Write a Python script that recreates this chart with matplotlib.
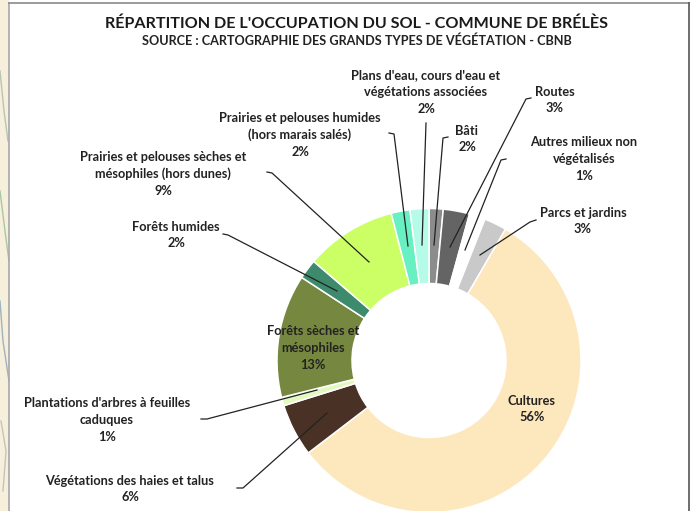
# Occupation du sol donut chart
import matplotlib
matplotlib.use('Agg')
import matplotlib.pyplot as plt
from matplotlib.patches import Rectangle

plt.rcParams['font.family'] = ['Lato', 'DejaVu Sans']

W, H = 694, 511

categories = ["Bâti", "Routes", "Autres milieux non\nvégétalisés", "Parcs et jardins", "Cultures",
              "Végétations des haies et talus", "Plantations d'arbres à feuilles\ncaduques",
              "Forêts sèches et\nmésophiles", "Forêts humides",
              "Prairies et pelouses sèches et\nmésophiles (hors dunes)",
              "Prairies et pelouses humides\n(hors marais salés)",
              "Plans d'eau, cours d'eau et\nvégétations associées"]
# slice sizes as measured on the ring, the printed percentages are rounded differently
values = [1.5, 2.8, 1.7, 2.4, 56.2, 5.6, 0.9, 13.1, 2.1, 9.7, 2.0, 2.0]
percents = ["2%", "3%", "1%", "3%", "56%", "6%", "1%", "13%", "2%", "9%", "2%", "2%"]
colors = ['#8c8c8c', '#646464', '#ffffff', '#c9c9c9', '#fde7bc', '#4a3125',
          '#e4f8c2', '#76883f', '#3e8a6c', '#ccff66', '#68f0c2', '#b4fbe8']

# label centres in picture pixels, same order as categories
label_pos = [(467, 139), (555, 100), (584, 159), (583, 221), (532, 409),
             (130, 489), (107, 420), (313, 348), (176, 235),
             (163, 174), (300, 135), (426, 92)]

# leader lines in picture pixels
leaders = [[(448, 137), (443, 138), (434, 245)],
           [(531, 98), (526, 99), (450, 247)],
           [(506, 159), (501, 160), (465, 250)],
           [(536, 220), (530, 222), (480, 255)],
           None,
           [(237, 488), (243, 488), (327, 413)],
           [(201, 419), (207, 419), (317, 390)],
           None,
           [(223, 234), (228, 235), (337, 291)],
           [(267, 172), (272, 173), (369, 262)],
           [(389, 133), (394, 134), (408, 246)],
           [(426, 123), (422, 245)]]

fig = plt.figure(figsize=(W / 100, H / 100), dpi=100)
ax = fig.add_axes([0, 0, 1, 1])

# map showing behind the panel on the left
ax.add_patch(Rectangle((0, 0), 9, H, color='#f6efdc', lw=0))
for xs, ys, c in [((0, 4, 8), (440, 400, 370), '#b9c4b0'),
                  ((0, 5, 9), (320, 280, 250), '#a9c8a0'),
                  ((0, 3, 9), (210, 170, 130), '#9fb3bd'),
                  ((1, 6, 3), (90, 60, 20), '#c4c4b8')]:
    ax.plot(xs, ys, color=c, lw=1)

wedges, _ = ax.pie(values, colors=colors, startangle=90, counterclock=False,
                   radius=152, center=(429, H - 360.5),
                   wedgeprops=dict(width=75, edgecolor='white', linewidth=1.1))

ax.set_xlim(0, W)
ax.set_ylim(0, H)
ax.set_aspect('auto')
ax.axis('off')

# panel frame
ax.plot([9, 9], [0, H - 3], color='#a8a8a8', lw=1.2)
ax.plot([9, 689], [H - 3, H - 3], color='#8a8a8a', lw=1.2)
ax.plot([689, 689], [0, H - 3], color='#555555', lw=1.2)

for pts in leaders:
    if pts is None:
        continue
    ax.plot([p[0] for p in pts], [H - p[1] for p in pts], color='#222222', lw=0.9)

for name, pct, (x, y) in zip(categories, percents, label_pos):
    ax.text(x, H - y, name + "\n" + pct, ha='center', va='center', fontsize=9.2,
            fontweight='bold', color='#222222', linespacing=1.47)

ax.text(357, H - 24, "RÉPARTITION DE L'OCCUPATION DU SOL - COMMUNE DE BRÉLÈS", ha='center', va='center',
        fontsize=11.6, fontweight='bold', color='#1a1a1a')
ax.text(357, H - 41, "SOURCE : CARTOGRAPHIE DES GRANDS TYPES DE VÉGÉTATION - CBNB", ha='center', va='center',
        fontsize=9.1, fontweight='bold', color='#222222')

fig.savefig('out.png', dpi=100)
